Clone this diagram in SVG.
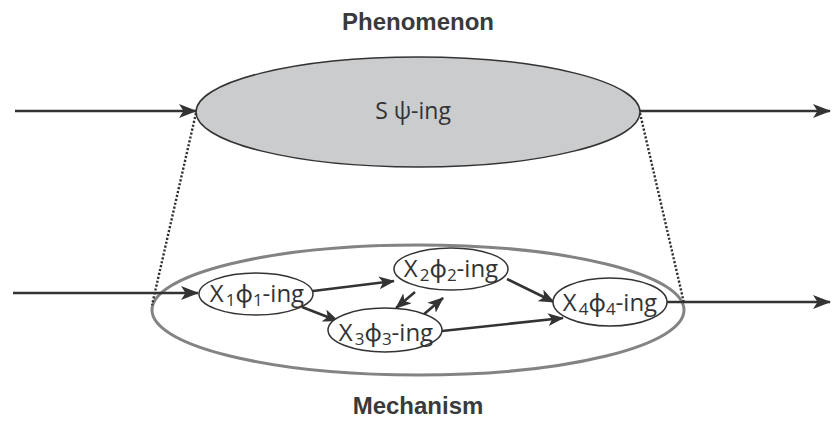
<svg xmlns="http://www.w3.org/2000/svg" width="832" height="421" viewBox="0 0 832 421">
<defs>
<style>
.title{font-family:"Liberation Sans",Arial,sans-serif;font-weight:bold;font-size:24px;fill:#3a3a3a;text-anchor:middle}
.lbl{font-family:"Open Sans","Noto Sans",sans-serif;font-size:24px;fill:#333;text-anchor:middle}
.sub{font-size:17px}
.node{fill:#fff;stroke:#333;stroke-width:1.5}
.conn{stroke:#333;stroke-width:2.6;fill:none}
.dot{stroke:#333;stroke-width:2.4;fill:none;stroke-dasharray:2.2 1.8}
</style>
<marker id="ah" markerUnits="userSpaceOnUse" markerWidth="19" markerHeight="15" refX="17" refY="7" orient="auto">
<path d="M0,0 L18,7 L0,14 L4.5,7 z" fill="#333"/>
</marker>
<marker id="ahs" markerUnits="userSpaceOnUse" markerWidth="17" markerHeight="14" refX="15" refY="6.5" orient="auto">
<path d="M0,0 L16,6.5 L0,13 L4,6.5 z" fill="#333"/>
</marker>
</defs>
<rect width="832" height="421" fill="#fff"/>
<text class="title" x="418" y="30">Phenomenon</text>
<text class="title" x="418" y="414">Mechanism</text>
<g id="phenomenon">
<ellipse cx="418" cy="112" rx="222" ry="55" fill="#cbcccd" stroke="#333" stroke-width="1.5"/>
<text class="lbl" x="413" y="119" style="font-size:23px">S ψ-ing</text>
</g>
<g id="mechanism">
<ellipse cx="418" cy="310" rx="266" ry="65" fill="none" stroke="#838383" stroke-width="3"/>
</g>
<g id="connectors">
<line class="dot" x1="196" y1="113" x2="152" y2="305"/>
<line class="dot" x1="640" y1="113" x2="684" y2="303"/>
<line class="conn" x1="15" y1="111" x2="196" y2="111" marker-end="url(#ah)"/>
<line class="conn" x1="640" y1="111" x2="830" y2="111" marker-end="url(#ah)"/>
<line class="conn" x1="13" y1="293" x2="198" y2="293" marker-end="url(#ah)"/>
<line class="conn" x1="667" y1="302" x2="830" y2="302" marker-end="url(#ah)"/>
<line class="conn" x1="313" y1="291" x2="394" y2="281" marker-end="url(#ahs)"/>
<line class="conn" x1="302" y1="307" x2="338" y2="321" marker-end="url(#ahs)"/>
<line class="conn" x1="415" y1="292" x2="396" y2="308" marker-end="url(#ahs)"/>
<line class="conn" x1="423" y1="315" x2="443" y2="298" marker-end="url(#ahs)"/>
<line class="conn" x1="507" y1="279" x2="554" y2="302" marker-end="url(#ahs)"/>
<line class="conn" x1="442" y1="331" x2="563" y2="318" marker-end="url(#ahs)"/>
</g>
<g id="x1">
<ellipse class="node" cx="256" cy="294" rx="57" ry="21"/>
<text class="lbl" x="257" y="302">X<tspan class="sub" dx="2" dy="4">1</tspan><tspan dy="-4">ϕ</tspan><tspan class="sub" dy="4">1</tspan><tspan dy="-4">-ing</tspan></text>
</g>
<g id="x2">
<ellipse class="node" cx="451" cy="269" rx="57" ry="21"/>
<text class="lbl" x="451" y="277">X<tspan class="sub" dx="2" dy="4">2</tspan><tspan dy="-4">ϕ</tspan><tspan class="sub" dy="4">2</tspan><tspan dy="-4">-ing</tspan></text>
</g>
<g id="x3">
<ellipse class="node" cx="385" cy="330" rx="57" ry="22"/>
<text class="lbl" x="386" y="341">X<tspan class="sub" dx="2" dy="4">3</tspan><tspan dy="-4">ϕ</tspan><tspan class="sub" dy="4">3</tspan><tspan dy="-4">-ing</tspan></text>
</g>
<g id="x4">
<ellipse class="node" cx="610" cy="302" rx="57" ry="24"/>
<text class="lbl" x="610" y="311">X<tspan class="sub" dx="2" dy="4">4</tspan><tspan dy="-4">ϕ</tspan><tspan class="sub" dy="4">4</tspan><tspan dy="-4">-ing</tspan></text>
</g>
</svg>
